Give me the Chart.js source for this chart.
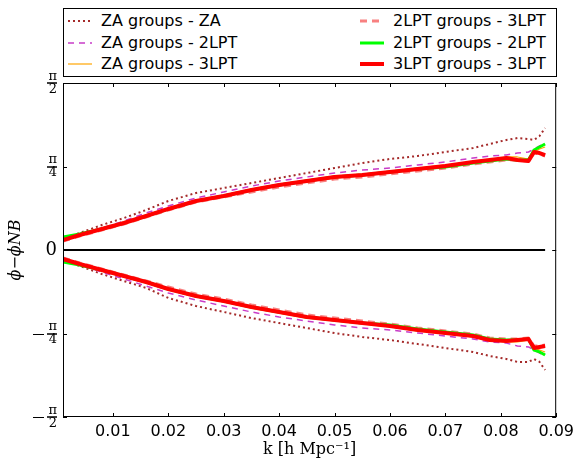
<!DOCTYPE html>
<html>
<head>
<meta charset="utf-8">
<script src="https://cdn.jsdelivr.net/npm/chart.js@4.4.0/dist/chart.umd.min.js"></script>
<style>
  html, body { margin: 0; padding: 0; background: #fff; }
  #wrap { position: relative; width: 579px; height: 461px; }
  #legend { position: absolute; left: 63px; top: 8px; width: 494px; height: 69px; box-sizing: border-box;
            border: 1px solid #000; background: #fff; font-family: 'DejaVu Sans', sans-serif; font-size: 16px; color: #000; }
  .item { position: absolute; height: 20px; line-height: 20px; white-space: nowrap; }
  .item svg { position: absolute; left: 0; top: 0; }
  .item span { position: absolute; left: 33px; top: 0; }
</style>
</head>
<body>
<div id="wrap">
  <canvas id="chart" width="579" height="461"></canvas>
  <div id="legend"></div>
</div>
<script>
// k values (h/Mpc)
const k = [0.001, 0.004, 0.008, 0.012, 0.016, 0.02, 0.025, 0.03, 0.035, 0.04, 0.045, 0.05,
           0.055, 0.06, 0.065, 0.07, 0.075, 0.078, 0.081, 0.083, 0.085, 0.086, 0.087, 0.088];

// phase difference, upper and lower branches (radians)
const zaZaUp = [0.103, 0.160, 0.235, 0.301, 0.376, 0.461, 0.536, 0.583, 0.630, 0.677, 0.724, 0.771,
                0.818, 0.856, 0.884, 0.922, 0.959, 0.997, 1.035, 1.053, 1.044, 1.035, 1.072, 1.148];
const zaZaLo = [-0.094, -0.150, -0.226, -0.292, -0.357, -0.451, -0.527, -0.583, -0.640, -0.687, -0.734, -0.781,
                -0.818, -0.847, -0.884, -0.922, -0.959, -0.997, -1.025, -1.053, -1.053, -1.025, -1.053, -1.129];
const za2lptUp = [0.094, 0.150, 0.207, 0.273, 0.348, 0.414, 0.489, 0.546, 0.602, 0.649, 0.687, 0.724,
                  0.752, 0.771, 0.800, 0.828, 0.865, 0.884, 0.894, 0.912, 0.922, 0.950, 0.978, 1.006];
const za2lptLo = [-0.085, -0.141, -0.207, -0.273, -0.339, -0.404, -0.470, -0.527, -0.583, -0.630, -0.668, -0.705,
                  -0.734, -0.752, -0.781, -0.809, -0.837, -0.865, -0.875, -0.903, -0.912, -0.941, -0.969, -0.997];
const za3lptUp = [0.103, 0.150, 0.207, 0.263, 0.329, 0.395, 0.470, 0.517, 0.574, 0.621, 0.658, 0.696,
                  0.715, 0.743, 0.771, 0.800, 0.828, 0.847, 0.875, 0.875, 0.856, 0.922, 0.950, 0.969];
const za3lptLo = [-0.094, -0.141, -0.198, -0.254, -0.310, -0.376, -0.442, -0.489, -0.546, -0.593, -0.640, -0.668,
                  -0.696, -0.724, -0.762, -0.790, -0.818, -0.847, -0.865, -0.865, -0.847, -0.922, -0.941, -0.959];
const lpt2_3Up = [0.085, 0.132, 0.188, 0.245, 0.310, 0.376, 0.451, 0.499, 0.546, 0.593, 0.630, 0.668,
                  0.687, 0.715, 0.743, 0.771, 0.809, 0.828, 0.847, 0.847, 0.837, 0.912, 0.903, 0.884];
const lpt2_3Lo = [-0.075, -0.122, -0.179, -0.235, -0.292, -0.348, -0.414, -0.461, -0.517, -0.564, -0.611, -0.640,
                  -0.668, -0.696, -0.734, -0.762, -0.790, -0.828, -0.837, -0.837, -0.828, -0.903, -0.903, -0.894];
const lpt2_2Up = [0.122, 0.150, 0.198, 0.254, 0.320, 0.386, 0.461, 0.508, 0.564, 0.611, 0.649, 0.687,
                  0.705, 0.734, 0.762, 0.781, 0.818, 0.837, 0.856, 0.847, 0.847, 0.941, 0.969, 0.997];
const lpt2_2Lo = [-0.113, -0.141, -0.188, -0.245, -0.301, -0.367, -0.433, -0.480, -0.536, -0.583, -0.630, -0.659,
                  -0.687, -0.705, -0.743, -0.771, -0.800, -0.837, -0.847, -0.847, -0.837, -0.941, -0.959, -0.988];
const lpt3_3Up = [0.094, 0.141, 0.198, 0.254, 0.320, 0.386, 0.461, 0.508, 0.564, 0.611, 0.649, 0.687,
                  0.705, 0.734, 0.762, 0.790, 0.828, 0.847, 0.865, 0.847, 0.837, 0.922, 0.912, 0.893];
const lpt3_3Lo = [-0.085, -0.132, -0.188, -0.245, -0.301, -0.367, -0.433, -0.480, -0.536, -0.583, -0.630, -0.659,
                  -0.687, -0.715, -0.752, -0.781, -0.809, -0.847, -0.856, -0.847, -0.837, -0.922, -0.912, -0.903];

const zeroK = [0.001, 0.088];
const zeroY = [0, 0];

const xTicks = [0.01, 0.02, 0.03, 0.04, 0.05, 0.06, 0.07, 0.08, 0.09];
const yTicks = [-Math.PI / 2, -Math.PI / 4, 0, Math.PI / 4, Math.PI / 2];

const series = [
  { label: 'ZA groups - ZA',     up: zaZaUp,   lo: zaZaLo,   color: '#a52a2a', width: 2,   dash: [2, 3] },
  { label: 'ZA groups - 2LPT',   up: za2lptUp, lo: za2lptLo, color: '#c83cc8', width: 1.5, dash: [6, 5] },
  { label: 'ZA groups - 3LPT',   up: za3lptUp, lo: za3lptLo, color: '#ffa500', width: 1.2, dash: [] },
  { label: '2LPT groups - 3LPT', up: lpt2_3Up, lo: lpt2_3Lo, color: '#f88080', width: 3,   dash: [7, 5] },
  { label: '2LPT groups - 2LPT', up: lpt2_2Up, lo: lpt2_2Lo, color: '#00ff00', width: 3,   dash: [] },
  { label: '3LPT groups - 3LPT', up: lpt3_3Up, lo: lpt3_3Lo, color: '#ff0000', width: 4,   dash: [] }
];

const pts = (xs, ys) => xs.map((x, i) => ({ x, y: ys[i] }));

const datasets = [];
series.forEach((s, i) => {
  ['up', 'lo'].forEach(b => {
    datasets.push({
      label: s.label,
      data: pts(k, s[b]),
      borderColor: s.color,
      borderWidth: s.width,
      borderDash: s.dash,
      borderJoinStyle: 'round',
      pointRadius: 0,
      fill: false,
      order: 10 - i
    });
  });
});
datasets.push({ label: 'zero', data: pts(zeroK, zeroY), borderColor: '#000', borderWidth: 2, pointRadius: 0, order: 20 });

// html legend, two columns like the original
const legend = document.getElementById('legend');
series.forEach((s, i) => {
  const col = i < 3 ? 0 : 1, row = i % 3;
  const div = document.createElement('div');
  div.className = 'item';
  div.style.left = (col ? 296 : 4) + 'px';
  div.style.top = (2 + row * 21.5) + 'px';
  div.innerHTML = '<svg width="28" height="20"><line x1="0" y1="10" x2="24" y2="10" stroke="' + s.color +
    '" stroke-width="' + s.width + '" stroke-dasharray="' + (s.dash.length ? s.dash.join(',') : 'none') + '"/></svg>' +
    '<span>' + s.label + '</span>';
  legend.appendChild(div);
});

const frame = {
  id: 'frame',
  afterDraw(chart) {
    const { ctx, chartArea: a, scales: { x, y } } = chart;
    ctx.save();
    ctx.strokeStyle = '#000';
    ctx.lineWidth = 1;
    ctx.strokeRect(a.left + 0.5, a.top + 0.5, a.width - 1, a.height - 1);
    ctx.beginPath();
    xTicks.forEach(v => {
      const px = Math.round(x.getPixelForValue(v)) + 0.5;
      ctx.moveTo(px, a.bottom); ctx.lineTo(px, a.bottom - 4);
      ctx.moveTo(px, a.top); ctx.lineTo(px, a.top + 4);
    });
    yTicks.forEach(v => {
      const py = Math.round(y.getPixelForValue(v)) + 0.5;
      ctx.moveTo(a.left, py); ctx.lineTo(a.left + 4, py);
      ctx.moveTo(a.right, py); ctx.lineTo(a.right - 4, py);
    });
    ctx.stroke();
    // minus signs for the negative pi labels
    ctx.beginPath();
    yTicks.forEach(v => {
      if (v >= 0) return;
      const py = Math.round(y.getPixelForValue(v)) + 0.5;
      ctx.moveTo(33, py); ctx.lineTo(44, py);
    });
    ctx.stroke();
    // fraction bars
    ctx.lineWidth = 1.6;
    ctx.beginPath();
    yTicks.forEach(v => {
      if (v === 0) return;
      const py = Math.round(y.getPixelForValue(v));
      ctx.moveTo(47, py); ctx.lineTo(57, py);
    });
    ctx.stroke();
    ctx.restore();
  }
};

new Chart('chart', {
  type: 'line',
  data: { datasets },
  options: {
    responsive: false,
    animation: false,
    layout: { padding: { top: 83, right: 22, left: 0, bottom: 0 } },
    plugins: { legend: { display: false }, tooltip: { enabled: false } },
    scales: {
      x: {
        type: 'linear', min: 0.001, max: 0.09,
        afterBuildTicks: s => { s.ticks = xTicks.map(v => ({ value: v })); },
        afterFit: s => { s.height = 44; },
        grid: { display: false, drawTicks: false },
        border: { display: false },
        ticks: {
          padding: 5, color: '#000', maxRotation: 0, autoSkip: false,
          font: { family: 'DejaVu Sans', size: 16 },
          callback: v => v.toFixed(2)
        },
        title: {
          display: true, text: 'k [h Mpc\u207B\u00B9]', color: '#000',
          font: { family: 'DejaVu Serif', size: 16 }, padding: { bottom: 2, top: 0 }
        }
      },
      y: {
        type: 'linear', min: -Math.PI / 2, max: Math.PI / 2,
        afterBuildTicks: s => { s.ticks = yTicks.map(v => ({ value: v })); },
        afterFit: s => { s.width = 63; },
        grid: { display: false, drawTicks: false },
        border: { display: false },
        ticks: {
          padding: 6, color: '#000', autoSkip: false,
          font: c => (c.tick && c.tick.value === 0)
            ? { family: 'DejaVu Serif', size: 18, lineHeight: 1.2 }
            : { family: 'DejaVu Serif', size: 13, lineHeight: 1.0 },
          callback: v => {
            if (v === 0) return '0';
            return ['\u03C0', Math.abs(Math.abs(v) - Math.PI / 2) < 1e-6 ? '2' : '4'];
          }
        },
        title: {
          display: true, text: '\u03D5\u2212\u03D5NB', color: '#000',
          font: { family: 'DejaVu Serif', size: 16, style: 'italic' }, padding: { top: 6, bottom: 0 }
        }
      }
    }
  },
  plugins: [frame]
});
</script>
</body>
</html>
